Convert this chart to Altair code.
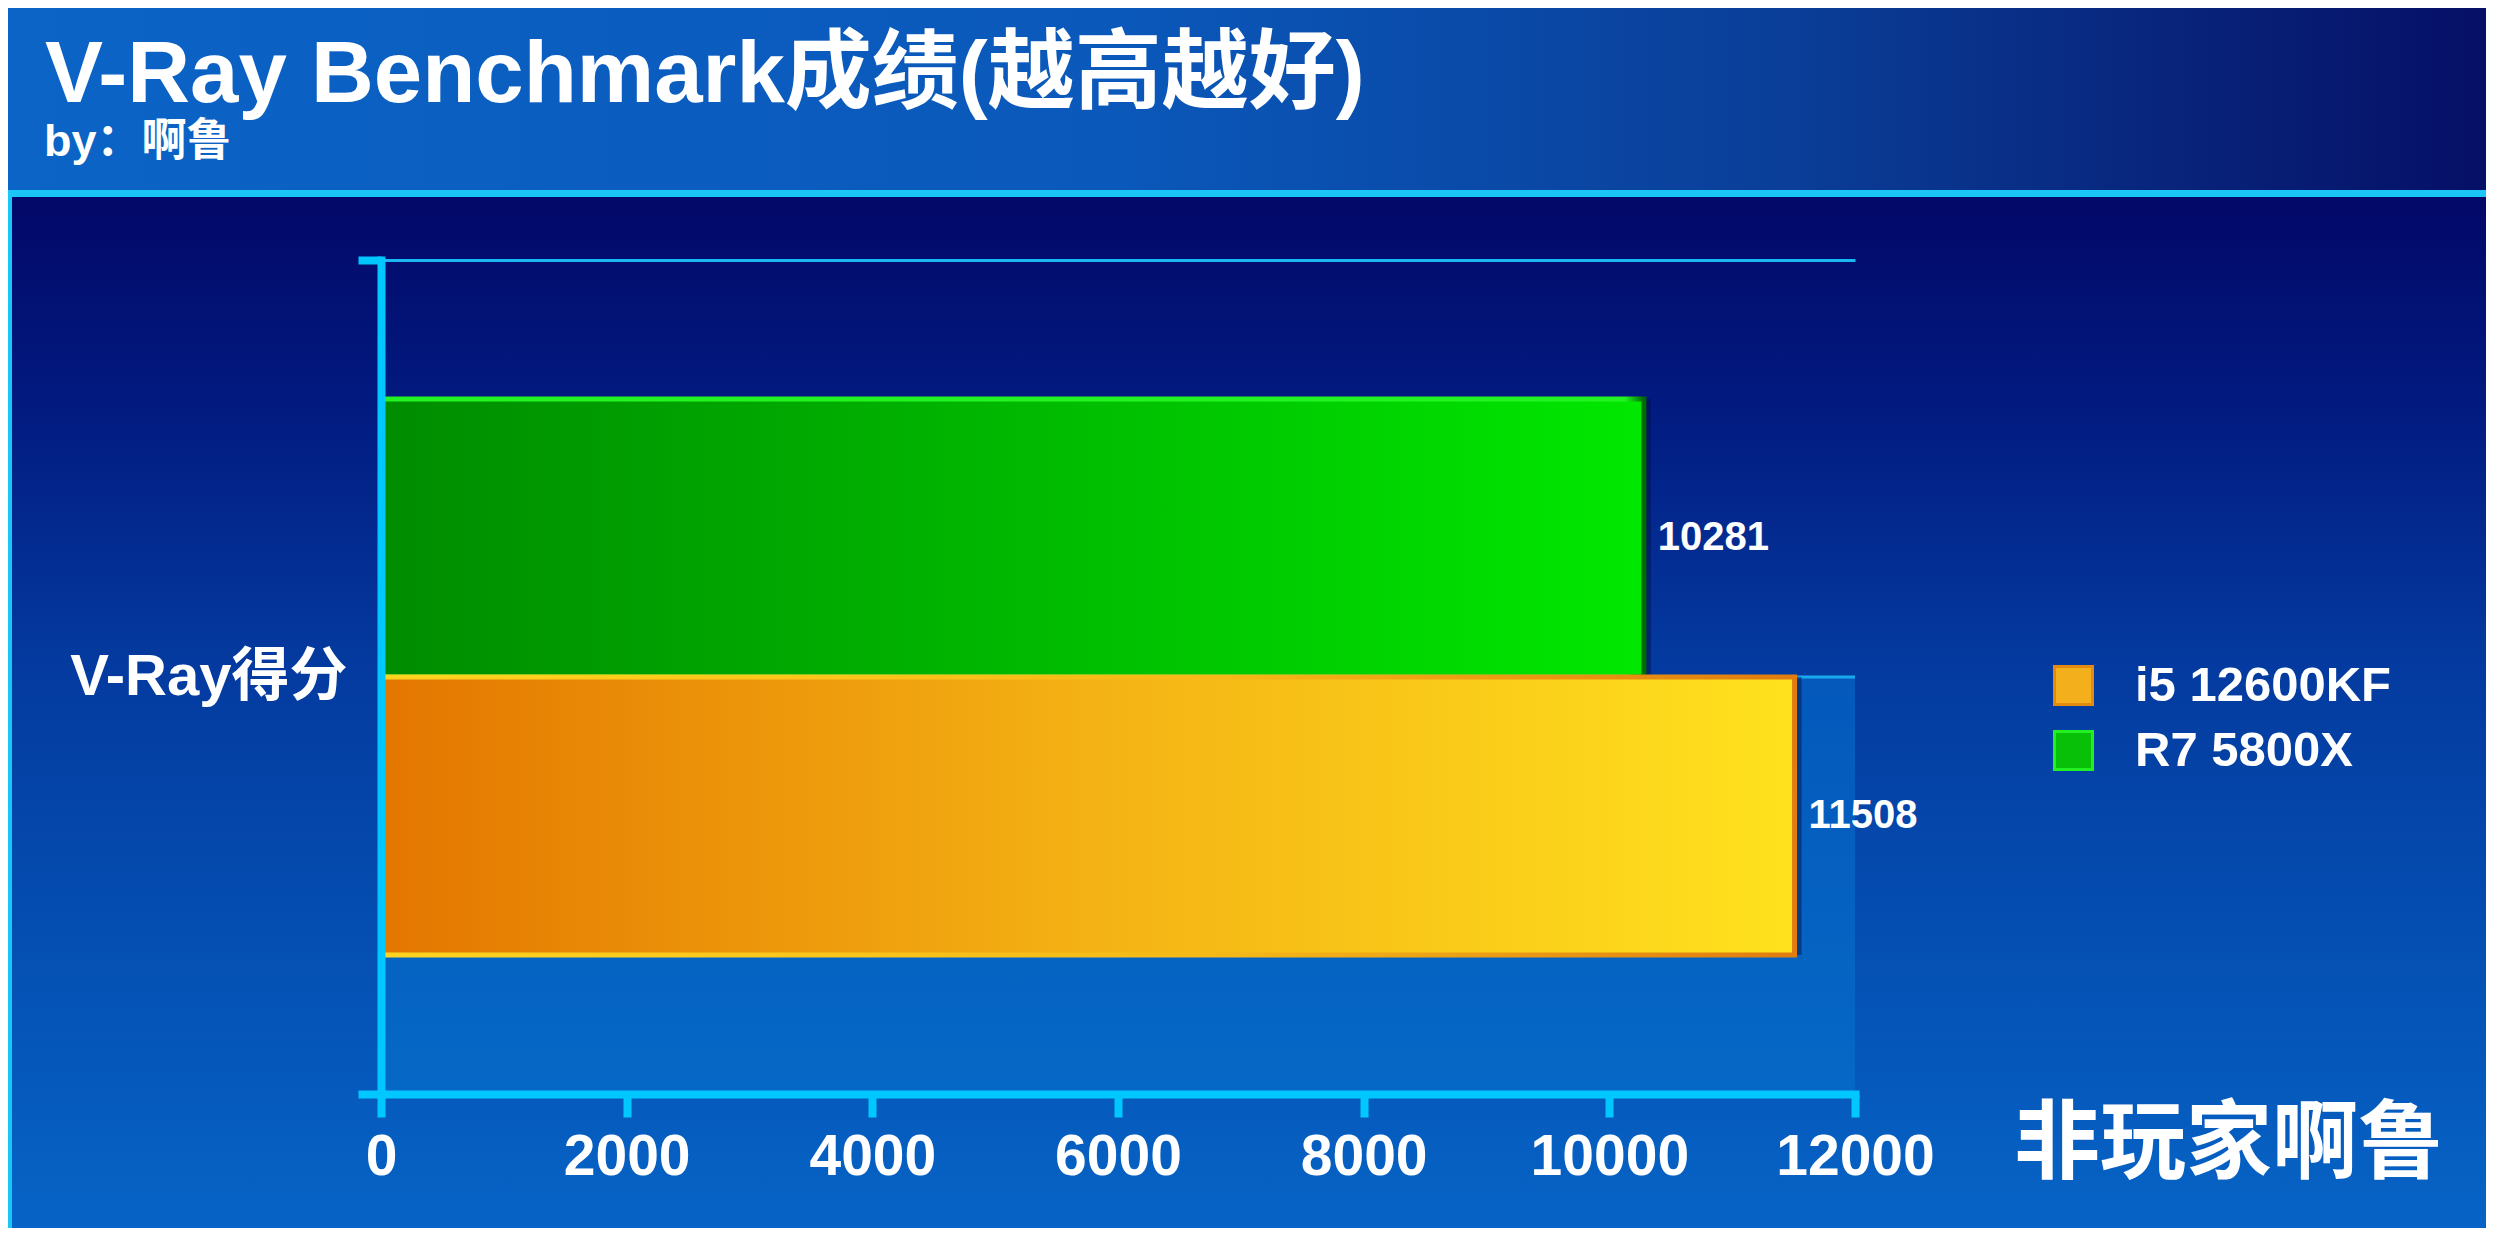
import altair as alt
import pandas as pd

# ---------------- data ----------------
categories = ["V-Ray得分"]
cpus = ["i5 12600KF", "R7 5800X"]
scores = [11508, 10281]
x_ticks = [0, 2000, 4000, 6000, 8000, 10000, 12000]

title_text = "V-Ray Benchmark成绩(越高越好)"
subtitle_text = "by：啊鲁"
watermark_text = "非玩家啊鲁"

df = pd.DataFrame({"category": categories * len(cpus), "cpu": cpus, "score": scores})
one = pd.DataFrame({"k": [0]})

# ---------------- layout ----------------
W, H = 1474, 834
PAD_L, PAD_T, PAD_R, PAD_B = 373, 252, 631, 134
TOT_W = PAD_L + W + PAD_R
TOT_H = PAD_T + H + PAD_B
FONT = "Liberation Sans, Arial, Noto Sans CJK SC"
CYAN = "#00c8ff"


def grad(stops, vertical=False):
    return alt.LinearGradient(
        gradient="linear",
        stops=[alt.GradientStop(offset=o, color=c) for o, c in stops],
        x1=0, x2=0 if vertical else 1, y1=0, y2=1 if vertical else 0,
    )


x_axis = alt.Axis(
    title=None, values=x_ticks, format="d", grid=False,
    labelFont=FONT, labelFontSize=57, labelFontWeight="bold", labelColor="white",
    labelPadding=12, labelFlush=False, labelOverlap=False,
    domainColor=CYAN, domainWidth=8, domainCap="square",
    tickColor=CYAN, tickWidth=8, tickSize=23, zindex=1,
)
y_axis = alt.Axis(
    title=None, tickBand="extent", grid=True, gridColor="#19b8f2", gridWidth=3,
    labelFont=FONT, labelFontSize=58, labelFontWeight="bold", labelColor="white",
    labelPadding=11, labelLimit=0,
    domainColor=CYAN, domainWidth=8, domainCap="square",
    tickColor=CYAN, tickWidth=8, tickSize=23, zindex=1,
)

x_enc = alt.X("score:Q", scale=alt.Scale(domain=[0, 12000], nice=False), axis=x_axis)
y_enc = alt.Y("category:N", scale=alt.Scale(paddingInner=0, paddingOuter=0), axis=y_axis)
yoff_enc = alt.YOffset("cpu:N", sort=["R7 5800X", "i5 12600KF"],
                       scale=alt.Scale(paddingInner=0, paddingOuter=0.5))

# ---------------- decorative backgrounds ----------------
header = alt.Chart(one).mark_rect(
    fill=grad([(0, "#0b64c6"), (0.45, "#0a58ba"), (0.72, "#0a3e98"), (0.88, "#08237a"), (1, "#060f66")])
).encode(x=alt.value(-PAD_L), x2=alt.value(TOT_W - PAD_L), y=alt.value(-PAD_T), y2=alt.value(-70))

header_line = alt.Chart(one).mark_rect(fill="#1ac6f6").encode(
    x=alt.value(-PAD_L), x2=alt.value(TOT_W - PAD_L), y=alt.value(-70), y2=alt.value(-63))

body = alt.Chart(one).mark_rect(
    fill=grad([(0, "#020868"), (0.2, "#021a80"), (0.45, "#043a9f"), (0.75, "#0551b4"), (1, "#0664c6")], vertical=True)
).encode(x=alt.value(-PAD_L), x2=alt.value(TOT_W - PAD_L), y=alt.value(-63), y2=alt.value(TOT_H - PAD_T))

left_edge = alt.Chart(one).mark_rect(fill="#1ac6f6").encode(
    x=alt.value(-PAD_L), x2=alt.value(-PAD_L + 4), y=alt.value(-63), y2=alt.value(TOT_H - PAD_T))

floor = alt.Chart(one).mark_rect(
    fill=grad([(0, "#0459bb"), (1, "#0668c6")], vertical=True)
).encode(x=alt.datum(0), x2=alt.datum(12000), y=alt.value(H / 2), y2=alt.value(H))

mid_rule = alt.Chart(one).mark_rule(color="#1aa8ee", strokeWidth=3).encode(
    x=alt.datum(0), x2=alt.datum(12000), y=alt.value(H / 2))

# ---------------- bars ----------------
shadow = alt.Chart(df).mark_bar(
    fill="#001040", opacity=0.45, xOffset=7, yOffset=7,
).encode(x=x_enc, y=y_enc, yOffset=yoff_enc)

orange_bar = alt.Chart(df).transform_filter(alt.datum.cpu == "i5 12600KF").mark_bar(
    fill=grad([(0, "#e47600"), (0.5, "#f4b214"), (1, "#ffe21e")]),
    stroke=grad([(0, "#ffd420"), (0.6, "#f5b818"), (1, "#e07c10")]),
    strokeWidth=5,
).encode(x=x_enc, y=y_enc, yOffset=yoff_enc)

green_bar = alt.Chart(df).transform_filter(alt.datum.cpu == "R7 5800X").mark_bar(
    fill=grad([(0, "#008c00"), (0.5, "#00b800"), (1, "#00e800")]),
    stroke=grad([(0, "#22f522"), (0.985, "#22f522"), (1, "#006a00")]),
    strokeWidth=5,
).encode(x=x_enc, y=y_enc, yOffset=yoff_enc)

labels = alt.Chart(df).mark_text(
    align="left", baseline="middle", dx=14, font=FONT, fontSize=40,
    fontWeight="bold", color="white",
).encode(x=x_enc, y=y_enc, yOffset=yoff_enc, text=alt.Text("score:Q", format="d"))

# ---------------- legend ----------------
legend_def = alt.Legend(
    title=None, orient="none", legendX=1668, legendY=401, padding=0,
    symbolType="square", symbolSize=1444, symbolStrokeWidth=3, symbolOpacity=1,
    labelFont=FONT, labelFontSize=49, labelFontWeight="bold", labelColor="white",
    labelOffset=37, rowPadding=14, labelLimit=0,
)
legend_layer = alt.Chart(df).transform_filter("false").mark_square(opacity=1).encode(
    x=alt.value(0), y=alt.value(0),
    fill=alt.Fill("cpu:N", scale=alt.Scale(domain=cpus, range=["#f4b01c", "#08c008"]), legend=legend_def),
    stroke=alt.Stroke("cpu:N", scale=alt.Scale(domain=cpus, range=["#e58a10", "#22f022"]), legend=legend_def),
)

# ---------------- texts ----------------
title = alt.Chart(one).mark_text(
    text=title_text, align="left", baseline="alphabetic", font=FONT,
    fontSize=87, fontWeight="bold", color="white",
).encode(x=alt.value(-336), y=alt.value(-158))

subtitle = alt.Chart(one).mark_text(
    text=subtitle_text, align="left", baseline="alphabetic", font=FONT,
    fontSize=45, fontWeight="bold", color="white",
).encode(x=alt.value(-337), y=alt.value(-104))

watermark = alt.Chart(one).mark_text(
    text=watermark_text, align="left", baseline="middle", font="Noto Sans CJK SC",
    fontSize=86, fontWeight="bold", color="white",
).encode(x=alt.value(1633), y=alt.value(886))

chart = alt.layer(
    header, header_line, body, left_edge, floor, mid_rule, shadow,
    green_bar, orange_bar, labels, legend_layer, title, subtitle, watermark,
).properties(
    width=W, height=H,
    autosize=alt.AutoSizeParams(type="none"),
    padding={"left": PAD_L, "top": PAD_T, "right": PAD_R, "bottom": PAD_B},
).configure_view(stroke=None).configure(background="#020a6a")

chart.save("out.html", embed_options={"renderer": "svg", "actions": False})
